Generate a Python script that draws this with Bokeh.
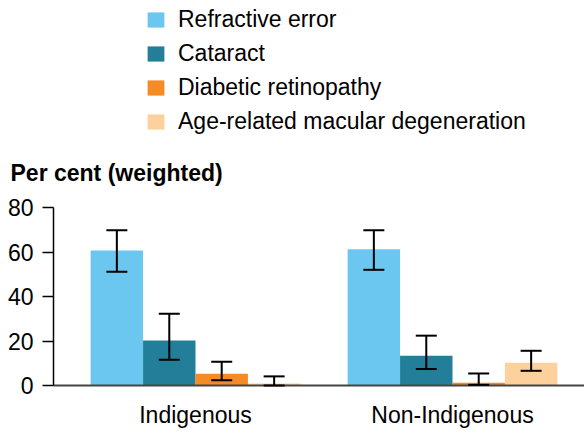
from bokeh.plotting import figure
from bokeh.models import (ColumnDataSource, Range1d, FixedTicker, Whisker, Legend,
                          LegendItem, TeeHead, Label)
from bokeh.embed import file_html
from bokeh.resources import INLINE

groups = ["Indigenous", "Non-Indigenous"]
series = ["Refractive error", "Cataract", "Diabetic retinopathy",
          "Age-related macular degeneration"]
colors = ["#6CC7F0", "#237F99", "#F68B26", "#FDD09C"]

refractive = [60.7, 61.2]
cataract = [20.2, 13.4]
diabetic = [5.3, 1.2]
amd = [0.9, 10.2]

refractive_lo = [51.1, 52.0]
refractive_hi = [69.8, 69.8]
cataract_lo = [11.6, 7.4]
cataract_hi = [32.2, 22.4]
diabetic_lo = [2.4, 0.3]
diabetic_hi = [10.7, 5.4]
amd_lo = [0.0, 6.6]
amd_hi = [4.1, 15.6]

y_ticks = [0, 20, 40, 60, 80]
y_title = "Per cent (weighted)"

vals = [refractive, cataract, diabetic, amd]
los = [refractive_lo, cataract_lo, diabetic_lo, amd_lo]
his = [refractive_hi, cataract_hi, diabetic_hi, amd_hi]

FONT = "Liberation Sans"
FS = "23px"
bar_w = 0.204
W, H = 584, 434
BASE_PX = 385                 # pixel row of the zero line (from top)
PX_PER_UNIT = 178 / 80.0      # vertical scale of the value axis
y_start = -(H - BASE_PX) / PX_PER_UNIT
y_end = BASE_PX / PX_PER_UNIT
X_PX = 257.0                  # pixels per category step
AXIS_PX = 53                  # where the value axis sits
x_axis_pos = -0.5525          # data x of the value axis
x_start = x_axis_pos - AXIS_PX / X_PX
x_end = x_axis_pos + (W - AXIS_PX) / X_PX

p = figure(width=W, height=H, output_backend="svg", toolbar_location=None,
           title=None,
           x_range=Range1d(x_start, x_end), y_range=Range1d(y_start, y_end),
           min_border_left=0, min_border_right=0, min_border_top=0,
           min_border_bottom=0)
p.outline_line_color = None
p.xgrid.grid_line_color = None
p.ygrid.grid_line_color = None

items = []
for j, name in enumerate(series):
    xs = [i + (j - 1.5) * bar_w for i in range(len(groups))]
    src = ColumnDataSource(dict(x=xs, top=vals[j], lo=los[j], hi=his[j]))
    r = p.vbar(x="x", top="top", bottom=0, width=bar_w, source=src,
               fill_color=colors[j], line_color=None)
    items.append(LegendItem(label=name, renderers=[r]))
    w = Whisker(base="x", lower="lo", upper="hi", source=src, line_color="black",
                line_width=2, level="overlay",
                upper_head=TeeHead(size=21, line_width=2, line_color="black"),
                lower_head=TeeHead(size=21, line_width=2, line_color="black"))
    p.add_layout(w)

p.xaxis.fixed_location = 0
p.xaxis.ticker = FixedTicker(ticks=list(range(len(groups))))
p.xaxis.major_label_overrides = {i: g for i, g in enumerate(groups)}
p.xaxis.bounds = (x_axis_pos, x_end)
p.xaxis.major_tick_line_color = None
p.xaxis.major_tick_out = 0
p.xaxis.major_tick_in = 0
p.xaxis.minor_tick_line_color = None
p.xaxis.axis_line_color = "#444444"
p.xaxis.axis_line_width = 2
p.xaxis.axis_label_standoff = 0
p.xaxis.major_label_text_font = FONT
p.xaxis.major_label_text_font_size = FS
p.xaxis.major_label_text_line_height = 1.0
p.xaxis.major_label_text_color = "black"
p.xaxis.major_label_standoff = 16

p.yaxis.fixed_location = x_axis_pos
p.yaxis.ticker = FixedTicker(ticks=y_ticks)
p.yaxis.bounds = (y_ticks[0], y_ticks[-1])
p.yaxis.minor_tick_line_color = None
p.yaxis.major_tick_in = 0
p.yaxis.major_tick_out = 11
p.yaxis.major_tick_line_color = "black"
p.yaxis.major_tick_line_width = 1.5
p.yaxis.axis_line_color = "black"
p.yaxis.axis_line_width = 1.5
p.yaxis.axis_label_standoff = 0
p.yaxis.major_label_text_font = FONT
p.yaxis.major_label_text_font_size = FS
p.yaxis.major_label_text_color = "black"
p.yaxis.major_label_standoff = 9

p.add_layout(Label(x=10, y=H - 172, x_units="screen", y_units="screen",
                   text=y_title, text_font=FONT, text_font_size=FS,
                   text_font_style="bold", text_color="black",
                   text_baseline="middle", text_align="left"))

legend = Legend(items=items, orientation="vertical", location=(145, H - 135),
                label_text_font=FONT, label_text_font_size=FS,
                label_text_color="black", glyph_width=21, glyph_height=19,
                label_height=24, label_standoff=12, spacing=7,
                padding=0, margin=0,
                border_line_color=None, background_fill_alpha=0)
p.add_layout(legend, "center")

open("out.html", "w").write(file_html(p, INLINE))
